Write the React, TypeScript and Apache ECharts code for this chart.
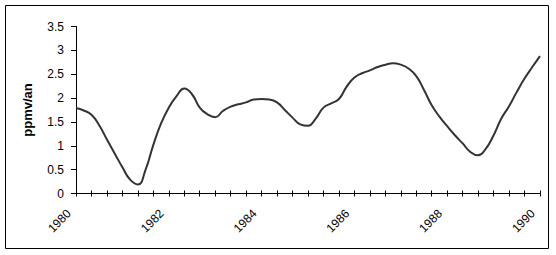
import React, { useEffect, useRef } from "react";
import * as echarts from "echarts";

// Growth rate (ppmv/an), one value every 2 months, 1980 -> 1990
const values: number[] = [
  1.79, 1.74, 1.65, 1.43, 1.13, 0.84, 0.55, 0.29, 0.19, 0.5, 1.02, 1.47,
  1.8, 2.04, 2.2, 2.08, 1.8, 1.66, 1.6, 1.73, 1.82, 1.87, 1.91, 1.97,
  1.98, 1.97, 1.91, 1.75, 1.59, 1.45, 1.42, 1.57, 1.8, 1.89, 1.98, 2.24,
  2.43, 2.52, 2.58, 2.65, 2.7, 2.73, 2.7, 2.62, 2.46, 2.17, 1.85, 1.61,
  1.41, 1.22, 1.05, 0.87, 0.8, 0.94, 1.22, 1.57, 1.83, 2.13, 2.41, 2.65,
  2.88,
];
const startYear = 1980;
const stepsPerYear = 6; // one value every 2 months
const yearLabels: string[] = ["1980", "1982", "1984", "1986", "1988", "1990"];
const yTitle = "ppmv/an";

const categories: string[] = values.map((_, i) => {
  const y = startYear + Math.floor(i / stepsPerYear);
  const m = (i % stepsPerYear) * 2 + 1;
  return `${y}-${m < 10 ? "0" + m : m}`;
});

export default function App() {
  const ref = useRef<HTMLDivElement>(null);
  useEffect(() => {
    if (!ref.current) return;
    const chart = echarts.init(ref.current, undefined, { renderer: "svg" });
    const font = "'Liberation Sans', Arial, sans-serif";
    chart.setOption({
      animation: false,
      backgroundColor: "#ffffff",
      graphic: [
        {
          type: "rect",
          shape: { x: 5.5, y: 5.5, width: 543, height: 243 },
          style: { fill: "none", stroke: "#000", lineWidth: 1 },
          silent: true,
        },
      ],
      grid: { left: 76, right: 16, top: 26.5, bottom: 61.5, containLabel: false },
      xAxis: [
        {
          type: "category",
          data: categories,
          boundaryGap: false,
          axisLine: { lineStyle: { color: "#000", width: 1 } },
          axisTick: { show: true, interval: 1, length: 3, lineStyle: { color: "#000" } },
          axisLabel: {
            interval: 11,
            rotate: 45,
            margin: 11,
            padding: [0, 10, 0, 0],
            color: "#000",
            fontFamily: font,
            fontSize: 12,
            formatter: (v: string) => {
              const y = v.slice(0, 4);
              return yearLabels.includes(y) ? y : "";
            },
          },
          splitLine: { show: false },
        },
        {
          type: "category",
          data: categories,
          boundaryGap: false,
          position: "bottom",
          axisLine: { show: false },
          axisTick: { show: true, inside: true, interval: 1, length: 3, lineStyle: { color: "#000" } },
          axisLabel: { show: false },
          splitLine: { show: false },
        },
      ],
      yAxis: {
        type: "value",
        min: 0,
        max: 3.5,
        interval: 0.5,
        name: yTitle,
        nameLocation: "middle",
        nameRotate: 90,
        nameGap: 42,
        nameTextStyle: { color: "#000", fontFamily: font, fontSize: 13, fontWeight: "bold" },
        axisLine: { show: true, lineStyle: { color: "#000", width: 1 } },
        axisTick: { show: true, length: 5, lineStyle: { color: "#000" } },
        axisLabel: { color: "#000", fontFamily: font, fontSize: 12, margin: 12 },
        splitLine: { show: false },
      },
      series: [
        {
          type: "line",
          data: values,
          xAxisIndex: 0,
          smooth: 0.5,
          showSymbol: false,
          lineStyle: { color: "#333333", width: 2 },
        },
      ],
    });
    return () => chart.dispose();
  }, []);
  return (
    <div
      ref={ref}
      style={{ position: "fixed", left: 0, top: 0, width: 556, height: 255, background: "#fff" }}
    />
  );
}
